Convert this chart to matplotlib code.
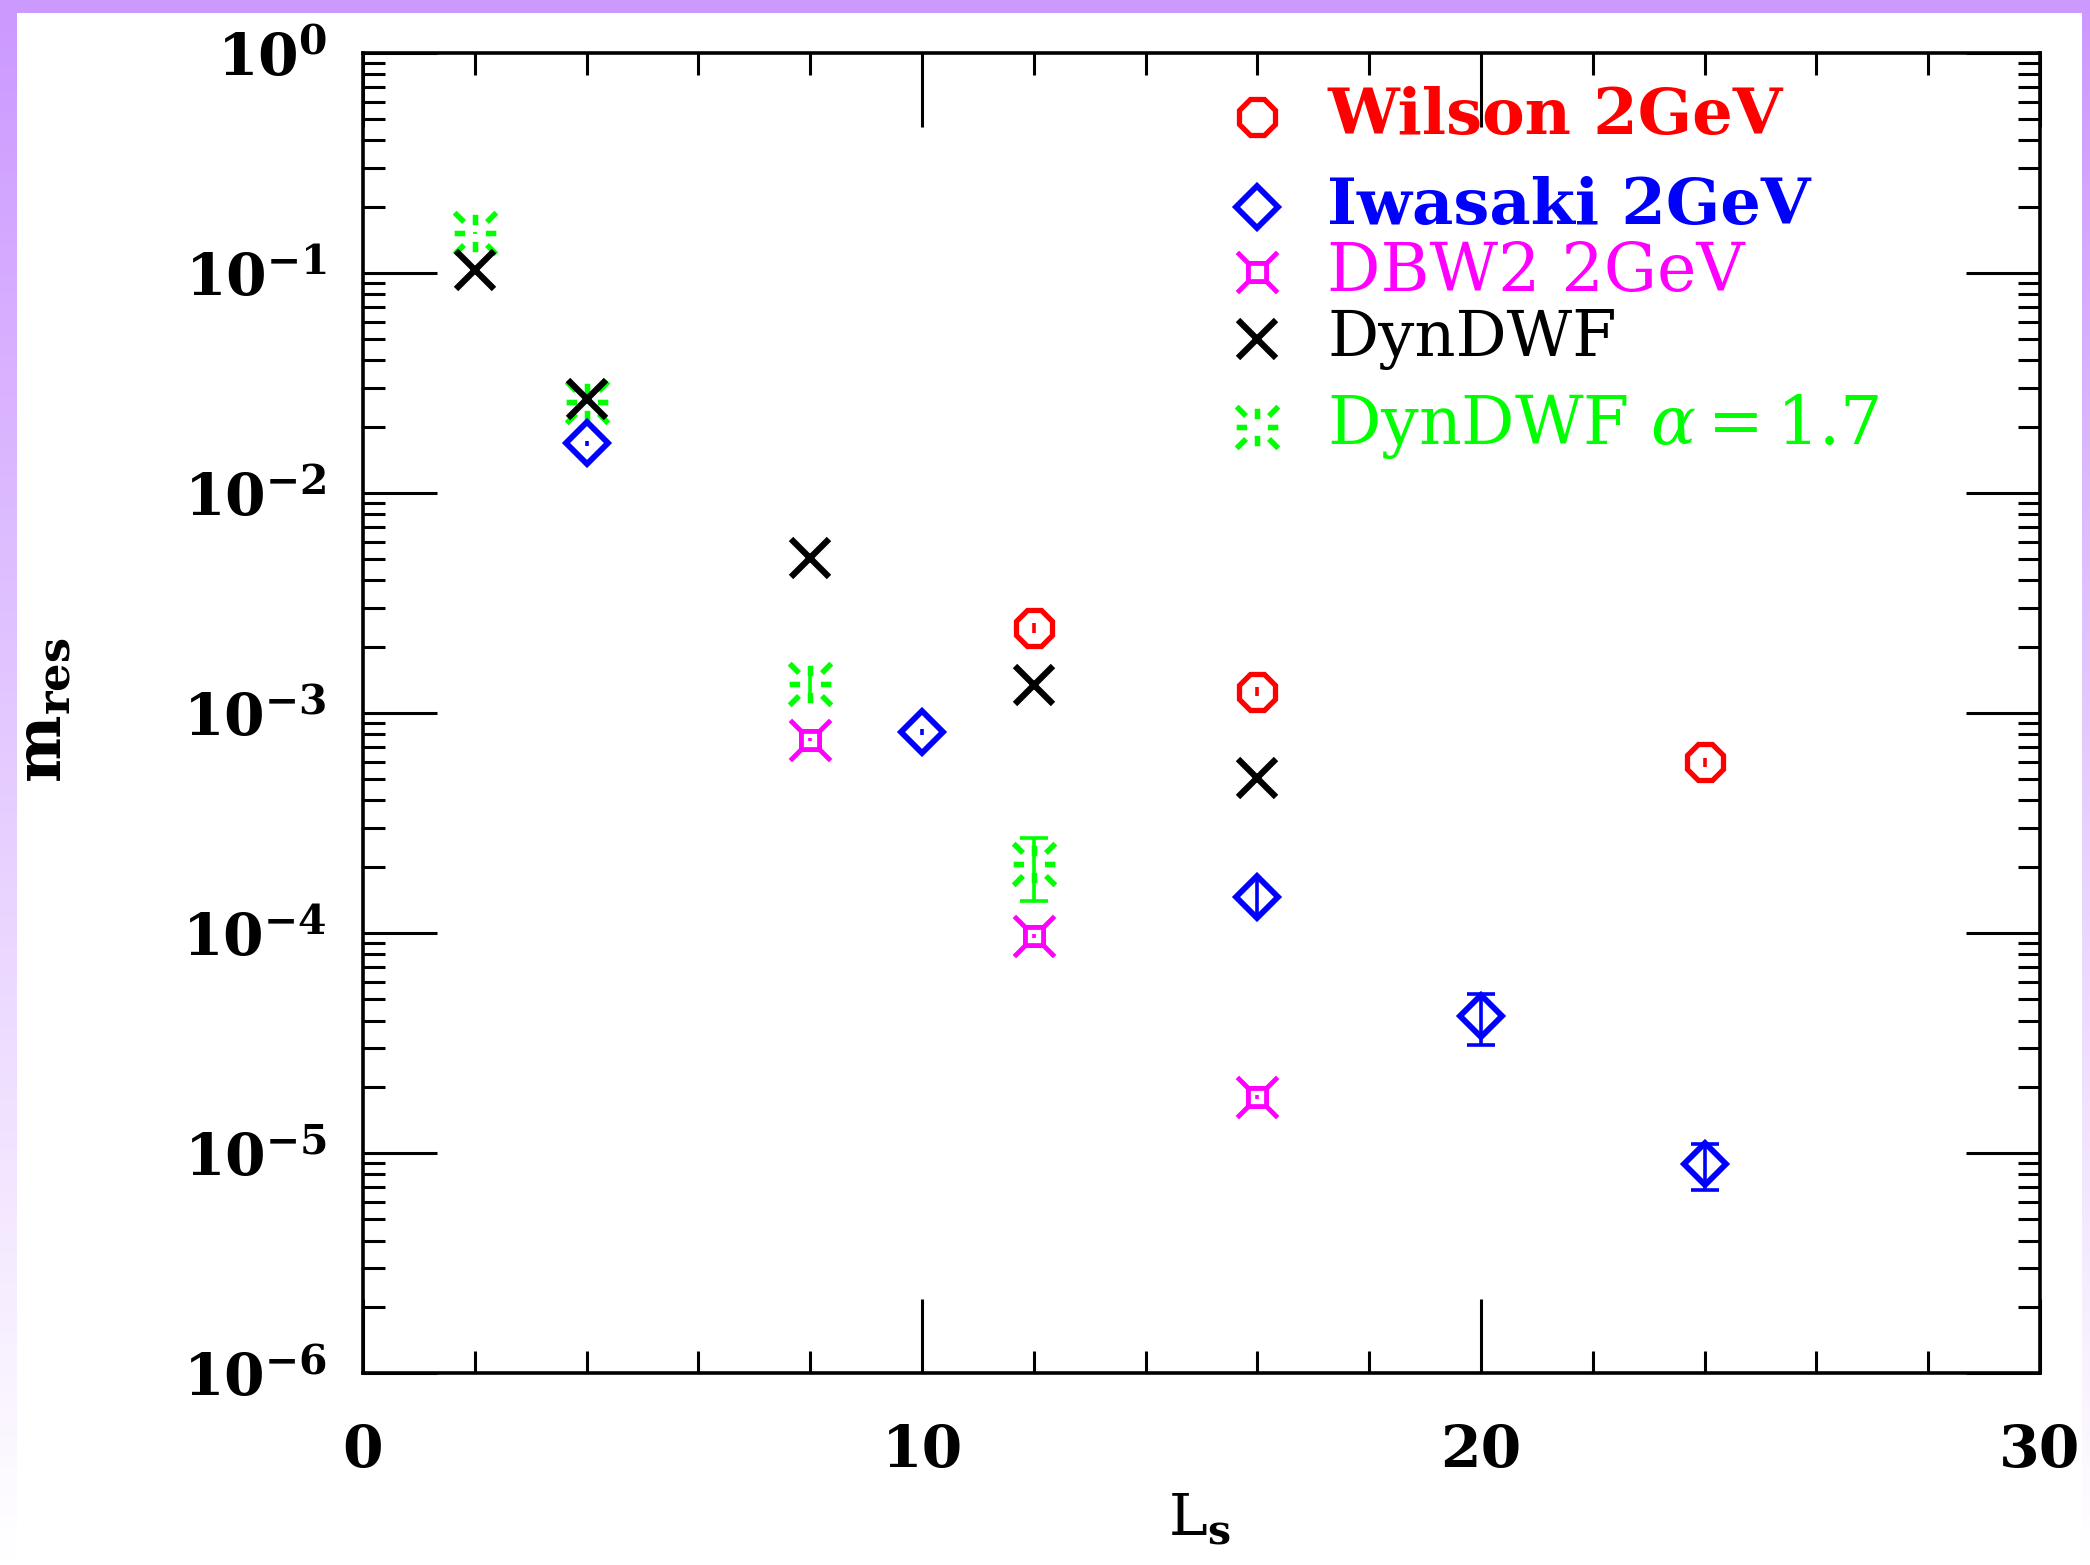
import matplotlib
matplotlib.use("Agg")
import matplotlib.pyplot as plt
import numpy as np
from matplotlib.path import Path
from matplotlib.ticker import MultipleLocator, LogLocator, NullFormatter

plt.rcParams.update({
    "font.family": ["DejaVu Serif"],
    "mathtext.fontset": "dejavuserif",
    "axes.linewidth": 2.6,
})

# residual mass vs L_s
L_wilson = [12, 16, 24]
m_wilson = [2.44e-3, 1.25e-3, 5.97e-4]
e_wilson = [1.2e-4, 6e-5, 3e-5]

L_iwasaki = [4, 10, 16, 20, 24]
m_iwasaki = [1.68e-2, 8.2e-4, 1.46e-4, 4.2e-5, 8.9e-6]
e_iwasaki = [5e-4, 2.5e-5, 3.0e-5, 1.1e-5, 2.1e-6]

L_dbw2 = [8, 12, 16]
m_dbw2 = [7.57e-4, 9.7e-5, 1.8e-5]
e_dbw2 = [1.5e-5, 2e-6, 4e-7]

L_dyn = [2, 4, 8, 12, 16]
m_dyn = [0.103, 2.66e-2, 5.05e-3, 1.34e-3, 5.05e-4]
e_dyn = [1e-3, 3e-4, 6e-5, 2e-5, 1.5e-5]

L_alpha = [2, 4, 8, 12]
m_alpha = [0.152, 2.6e-2, 1.36e-3, 2.05e-4]
e_alpha = [2e-3, 4e-4, 2.4e-4, 6.5e-5]

labels = ["Wilson 2GeV", "Iwasaki 2GeV", "DBW2 2GeV", "DynDWF", r"DynDWF $\alpha = 1.7$"]

# custom marker shapes
M, L, C = Path.MOVETO, Path.LINETO, Path.CLOSEPOLY
s = 0.45
dbw2_marker = Path(
    [(-s, -s), (s, -s), (s, s), (-s, s), (-s, -s),
     (s, s), (1, 1), (-s, s), (-1, 1), (-s, -s), (-1, -1), (s, -s), (1, -1)],
    [M, L, L, L, C, M, L, M, L, M, L, M, L])
burst_verts, burst_codes = [], []
for dx, dy in [(1, 1), (-1, 1), (1, -1), (-1, -1)]:
    burst_verts += [(0.55 * dx, 0.55 * dy), (dx, dy)]
    burst_codes += [M, L]
for dx, dy in [(1, 0), (-1, 0)]:
    burst_verts += [(0.5 * dx, 0), (dx, 0)]
    burst_codes += [M, L]
for dy in [1, -1]:
    burst_verts += [(0, 0.4 * dy), (0, 0.9 * dy)]
    burst_codes += [M, L]
burst_marker = Path(burst_verts, burst_codes)

series = [
    (L_alpha, m_alpha, e_alpha, "#00FF00", burst_marker, 30, 4.0),
    (L_wilson, m_wilson, e_wilson, "#FF0000", "8", 28, 3.8),
    (L_iwasaki, m_iwasaki, e_iwasaki, "#0000FF", "D", 21, 4.2),
    (L_dbw2, m_dbw2, e_dbw2, "#FF00FF", dbw2_marker, 29, 3.5),
    (L_dyn, m_dyn, e_dyn, "black", "x", 28, 4.5),
]

fig = plt.figure(figsize=(20.9, 15.65), dpi=100)
fig.patch.set_facecolor("white")
ax = fig.add_axes([0.1737, 0.1227, 0.8024, 0.8435])

for xs, ys, es, col, mk, ms, mew in series:
    for x, y, e in zip(xs, ys, es):
        cap = 10 if e / y > 0.22 else 0
        ax.errorbar([x], [y], yerr=[e], fmt="none", ecolor=col,
                    elinewidth=2.6, capsize=cap, capthick=2.6)
    ax.plot(xs, ys, linestyle="none", marker=mk, markersize=ms,
            markerfacecolor="none", markeredgecolor=col, markeredgewidth=mew)

ax.set_yscale("log")
ax.set_xlim(0, 30)
ax.set_ylim(1e-6, 1)
ax.xaxis.set_major_locator(MultipleLocator(10))
ax.xaxis.set_minor_locator(MultipleLocator(2))
ax.yaxis.set_major_locator(LogLocator(base=10, numticks=10))
ax.yaxis.set_minor_locator(LogLocator(base=10, subs=np.arange(2, 10), numticks=20))
ax.yaxis.set_minor_formatter(NullFormatter())
ax.tick_params(which="both", direction="in", top=True, right=True, width=2.2)
ax.tick_params(which="major", length=53, labelsize=42)
ax.tick_params(which="minor", length=16)
ax.tick_params(axis="x", which="major", pad=36)
ax.tick_params(axis="y", which="major", pad=26)
for lab in ax.get_xticklabels() + ax.get_yticklabels():
    lab.set_fontweight("bold")

# legend drawn by hand (uneven row spacing like the original)
rows_y = [0.9515, 0.8833, 0.834, 0.783, 0.7167]
leg = [series[1], series[2], series[3], series[4], series[0]]
weights = ["bold", "bold", "normal", "normal", "normal"]
sizes = [46, 46, 48, 46, 48]
for (xs, ys, es, col, mk, ms, mew), lab, yy, w, fs in zip(leg, labels, rows_y, weights, sizes):
    ax.plot([0.533], [yy], transform=ax.transAxes, linestyle="none", marker=mk,
            markersize=ms, markerfacecolor="none", markeredgecolor=col,
            markeredgewidth=mew, clip_on=False)
    ax.text(0.575, yy, lab, transform=ax.transAxes, color=col, fontsize=fs,
            fontweight=w, ha="left", va="center")

fig.text(0.021, 0.546, r"$\mathbf{m}_{\mathbf{res}}$", rotation=90,
         fontsize=46, ha="center", va="center")
fig.text(0.574, 0.029, r"$\mathrm{L}_{\mathbf{s}}$", fontsize=42,
         ha="center", va="center")

# lavender frame, fading down the sides
grad = np.linspace(0, 1, 256)[:, None]
top_col = np.array([204, 153, 255]) / 255.0
img = top_col[None, None, :] * (1 - grad[:, :, None]) + np.ones(3)[None, None, :] * grad[:, :, None]
for rect in ([0, 0, 17 / 2090, 1], [2082 / 2090, 0, 8 / 2090, 1]):
    sax = fig.add_axes(rect)
    sax.imshow(img, aspect="auto", extent=[0, 1, 0, 1], origin="upper")
    sax.axis("off")
tax = fig.add_axes([0, 1 - 13 / 1565, 1, 13 / 1565])
tax.set_facecolor(top_col)
tax.set_xticks([])
tax.set_yticks([])
for sp in tax.spines.values():
    sp.set_visible(False)

fig.savefig("out.png", dpi=100, facecolor="white")
